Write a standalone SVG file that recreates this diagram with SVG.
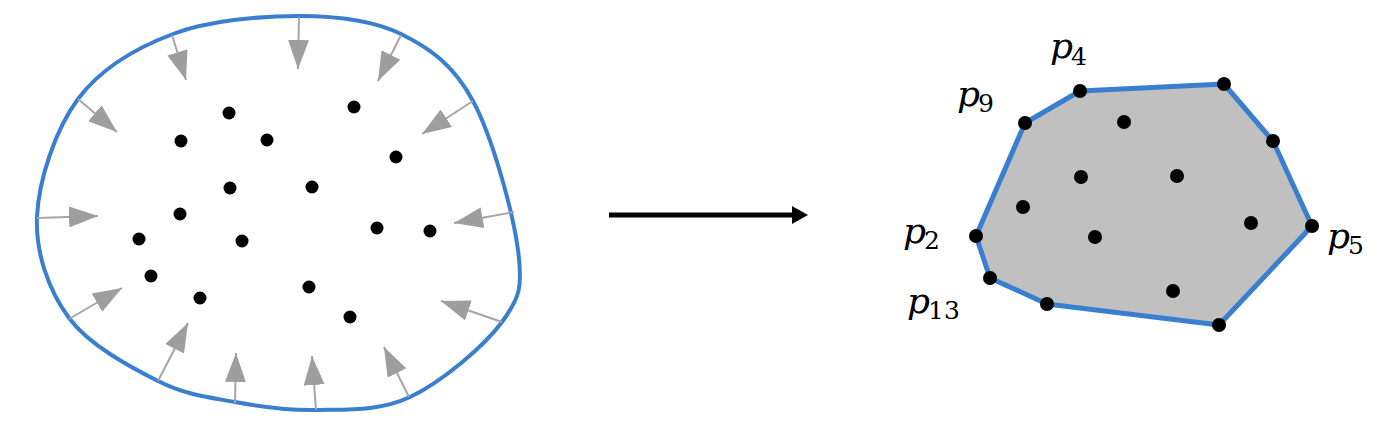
<svg xmlns="http://www.w3.org/2000/svg" width="1397" height="431" viewBox="0 0 1397 431">
<style>
.blob{fill:none;stroke:#3a7fcf;stroke-width:4}
.hull{fill:#c0c0c0;stroke:#3a7fcf;stroke-width:5;stroke-linejoin:round}
.dot{fill:#000}
.garrow{stroke:#a6a6a6;stroke-width:2;marker-end:url(#gh)}
.lbl{font-family:"DejaVu Serif","Liberation Serif","Times New Roman",Times,serif;fill:#000}
.p{font-style:italic;font-size:36px}
.sub{font-style:normal;font-size:25px}
</style>
<defs>
<marker id="gh" markerUnits="userSpaceOnUse" markerWidth="29" markerHeight="21" refX="29" refY="10.5" orient="auto" viewBox="0 0 29 21">
<path d="M0,0 L29,10.5 L0,21 Z" fill="#9e9e9e"/>
</marker>
</defs>
<rect width="1397" height="431" fill="#fff"/>
<g id="blob">
<path class="blob" d="M299,16 C261,16 209.8,20.2 173,34 C136.2,47.8 100.7,68.5 78,99 C55.3,129.5 38.5,180.5 37,217 C35.5,253.5 48.8,290.7 69,318 C89.2,345.3 130.3,367 158,381 C185.7,395 208.7,397.2 235,402 C261.3,406.8 286.8,410.8 316,410 C345.2,409.2 379,411.7 410,397 C441,382.3 484,346.5 502,322 C520,297.5 522.8,286.8 518,250 C513.2,213.2 492.5,137 473,101 C453.5,65 430,48.2 401,34 C372,19.8 337,16 299,16 Z"/>
</g>
<g id="inward-arrows">
<line class="garrow" x1="299" y1="17" x2="298" y2="69"/>
<line class="garrow" x1="172" y1="35" x2="186" y2="80"/>
<line class="garrow" x1="401" y1="35" x2="378" y2="81"/>
<line class="garrow" x1="78" y1="99" x2="117" y2="132"/>
<line class="garrow" x1="473" y1="101" x2="422" y2="134"/>
<line class="garrow" x1="37" y1="218" x2="98" y2="216"/>
<line class="garrow" x1="514" y1="212" x2="454" y2="223"/>
<line class="garrow" x1="69" y1="319" x2="122" y2="288"/>
<line class="garrow" x1="502" y1="322" x2="441" y2="301"/>
<line class="garrow" x1="158" y1="381" x2="188" y2="323"/>
<line class="garrow" x1="235" y1="403" x2="236" y2="353"/>
<line class="garrow" x1="316" y1="410" x2="312" y2="356"/>
<line class="garrow" x1="409" y1="397" x2="384" y2="347"/>
</g>
<g id="left-points">
<circle class="dot" cx="229" cy="113" r="6.5"/>
<circle class="dot" cx="354" cy="107" r="6.5"/>
<circle class="dot" cx="181" cy="141" r="6.5"/>
<circle class="dot" cx="267" cy="140" r="6.5"/>
<circle class="dot" cx="396" cy="157" r="6.5"/>
<circle class="dot" cx="230" cy="188" r="6.5"/>
<circle class="dot" cx="312" cy="187" r="6.5"/>
<circle class="dot" cx="180" cy="214" r="6.5"/>
<circle class="dot" cx="139" cy="239" r="6.5"/>
<circle class="dot" cx="242" cy="241" r="6.5"/>
<circle class="dot" cx="377" cy="228" r="6.5"/>
<circle class="dot" cx="430" cy="231" r="6.5"/>
<circle class="dot" cx="151" cy="276" r="6.5"/>
<circle class="dot" cx="200" cy="298" r="6.5"/>
<circle class="dot" cx="309" cy="287" r="6.5"/>
<circle class="dot" cx="350" cy="317" r="6.5"/>
</g>
<g id="connectors">
<line x1="609" y1="215" x2="794" y2="215" stroke="#000" stroke-width="5"/>
<polygon points="792,206 808,215 792,224" fill="#000"/>
</g>
<g id="hull">
<polygon class="hull" points="1080,91 1224,84 1273,141 1312,226 1219,325 1047,304 990,278 976,236 1025,123"/>
</g>
<g id="hull-points">
<circle class="dot" cx="1080" cy="91" r="7"/>
<circle class="dot" cx="1224" cy="84" r="7"/>
<circle class="dot" cx="1273" cy="141" r="7"/>
<circle class="dot" cx="1312" cy="226" r="7"/>
<circle class="dot" cx="1219" cy="325" r="7"/>
<circle class="dot" cx="1047" cy="304" r="7"/>
<circle class="dot" cx="990" cy="278" r="7"/>
<circle class="dot" cx="976" cy="236" r="7"/>
<circle class="dot" cx="1025" cy="123" r="7"/>
<circle class="dot" cx="1124" cy="122" r="7"/>
<circle class="dot" cx="1081" cy="177" r="7"/>
<circle class="dot" cx="1177" cy="176" r="7"/>
<circle class="dot" cx="1023" cy="207" r="7"/>
<circle class="dot" cx="1251" cy="223" r="7"/>
<circle class="dot" cx="1095" cy="237" r="7"/>
<circle class="dot" cx="1173" cy="291" r="7"/>
</g>
<g id="labels" class="lbl">
<text id="label-p4"><tspan class="p" x="1050" y="58">p</tspan><tspan class="sub" x="1071" y="65">4</tspan></text>
<text id="label-p9"><tspan class="p" x="957" y="106">p</tspan><tspan class="sub" x="978" y="112">9</tspan></text>
<text id="label-p2"><tspan class="p" x="903" y="243">p</tspan><tspan class="sub" x="924" y="249">2</tspan></text>
<text id="label-p13"><tspan class="p" x="907" y="313">p</tspan><tspan class="sub" x="928" y="319">13</tspan></text>
<text id="label-p5"><tspan class="p" x="1327" y="248">p</tspan><tspan class="sub" x="1348" y="254">5</tspan></text>
</g>
</svg>
